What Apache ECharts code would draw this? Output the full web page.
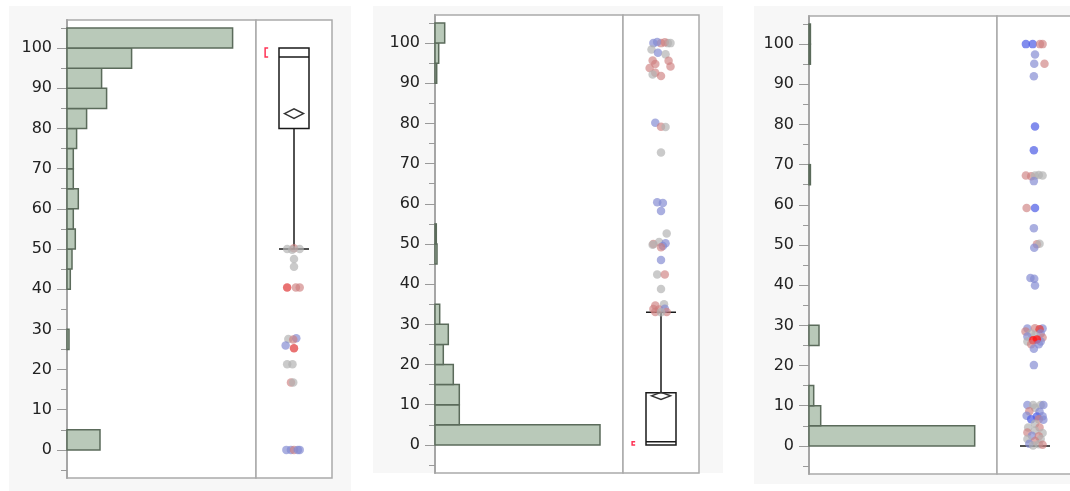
<!DOCTYPE html>
<html><head><meta charset="utf-8">
<script src="https://cdn.jsdelivr.net/npm/echarts@6/dist/echarts.min.js"></script>
<style>html,body{margin:0;padding:0;background:#fff}#c{width:1070px;height:491px}</style>
</head><body><div id="c"></div>
<script>
// ---------- DATA ----------
const binEdges = [0,5,10,15,20,25,30,35,40,45,50,55,60,65,70,75,80,85,90,95,100,105];
const hist1 = [33,0,0,0,0,2,0,0,3.3,5,8.3,6.3,11.3,6.3,6.3,9.6,19.6,39.6,34.6,64.6,165.6];
const hist2 = [165,24.3,24.3,18.3,8.3,13.3,4.7,0,0,2,1.3,0,0,0,0,0,0,0,1.7,3.7,9.7];
const hist3 = [165.7,11.7,4.7,0,0,10,0,0,0,0,0,0,0,1.4,0,0,0,0,0,1.4,1.4];
const histMax = [189, 188, 188];
const majorTicks = [0,10,20,30,40,50,60,70,80,90,100];
const minorTicks = [-5,5,15,25,35,45,55,65,75,85,95,105];
const yRange = [-7, 107];
// [min, Q1, median, Q3, max]
const box1 = [50, 80, 97.8, 100, 100];
const box2 = [0, 0, 0.8, 13, 33];
const box3 = [0, 0, 0, 0, 0];
// [mean, half-height of confidence diamond]
const mean1 = [83.7, 1.2];
const mean2 = [12.2, 0.9];
// shortest half [lo, hi]
const short1 = [97.8, 100];
const short2 = [0, 0.8];
// jittered points [jitter, value, group]
const pts1 = [
 [-0.18,50,'g'],[0.0,50.2,'p'],[0.15,50,'g'],[-0.05,49.8,'g'],
 [0,47.5,'g'],[0,45.6,'g'],
 [-0.18,40.4,'r'],[0.05,40.4,'p'],[0.15,40.4,'p'],
 [-0.15,27.6,'g'],[0.06,27.8,'b'],[-0.02,27.5,'p'],[-0.22,26,'b'],[0.0,25.3,'r'],
 [-0.18,21.3,'g'],[-0.04,21.3,'g'],[-0.08,16.8,'p'],[-0.02,16.8,'g'],
 [-0.2,0,'b'],[-0.08,0,'b'],[0.0,0,'p'],[0.1,0,'b'],[0.15,0,'b']
];
const pts2 = [
 [-0.2,100,'b'],[0,100,'p'],[0.18,100,'g'],[-0.1,100.3,'b'],[0.1,100.2,'p'],[0.25,100,'g'],
 [-0.25,98.4,'g'],[-0.08,97.6,'b'],[0.12,97.2,'g'],
 [-0.22,95.7,'p'],[0.2,95.6,'p'],[-0.15,94.8,'p'],[0.25,94.2,'p'],[-0.3,93.8,'p'],
 [-0.15,92.6,'p'],[-0.22,92.2,'g'],[0.0,91.8,'p'],
 [-0.15,80.2,'b'],[0.0,79.2,'p'],[0.12,79.1,'g'],[0.0,72.8,'g'],
 [-0.1,60.4,'b'],[0.05,60.2,'b'],[0.0,58.2,'b'],[0.15,52.6,'g'],
 [-0.2,50,'p'],[-0.05,50.5,'g'],[0.12,50.2,'b'],[-0.22,49.8,'g'],[0.05,49.5,'b'],[0.0,49.2,'p'],
 [0.0,46,'b'],[-0.1,42.4,'g'],[0.1,42.4,'p'],[0.0,38.8,'g'],
 [-0.15,34.7,'p'],[0.08,35,'g'],[-0.2,33.8,'p'],[-0.05,33.7,'p'],[0.1,33.9,'b'],
 [-0.15,33.1,'p'],[0.15,33.1,'p'],[0,33,'g']
];
const pts3 = [
 [-0.24,100,'B'],[-0.06,100,'B'],[0.13,100,'p'],[0.2,100,'p'],
 [0,97.4,'b'],[-0.02,95.1,'b'],[0.25,95.1,'p'],[-0.03,92,'b'],
 [0,79.5,'B'],[-0.03,73.6,'B'],
 [-0.24,67.3,'p'],[-0.1,67.1,'p'],[0.0,67.3,'g'],[0.1,67.4,'g'],[0.2,67.3,'g'],[-0.03,65.9,'b'],
 [-0.22,59.2,'p'],[0.0,59.2,'B'],[-0.03,54.2,'b'],
 [0.05,50.2,'p'],[0.12,50.3,'g'],[-0.02,49.3,'b'],
 [-0.12,41.8,'b'],[-0.02,41.6,'b'],[0.0,39.9,'b'],
 [-0.2,29.2,'b'],[0,29.3,'p'],[0.2,29.2,'b'],[0.12,29,'r'],[-0.25,28.5,'p'],[-0.1,28,'g'],[0.15,28,'b'],
 [-0.2,27.2,'b'],[0,27.5,'g'],[0.2,27,'p'],[-0.2,26,'g'],[0.15,26,'b'],[-0.05,26.3,'R'],[0.05,26.5,'R'],
 [-0.1,25.3,'p'],[0.1,25.3,'b'],[-0.03,24.2,'b'],[-0.03,20.1,'b'],
 [-0.2,10.2,'b'],[-0.05,10.2,'g'],[0.15,10.2,'g'],[0.22,10.2,'b'],[0,9.5,'g'],[-0.15,8.6,'p'],[0.12,8.5,'b'],
 [-0.22,7.5,'b'],[0.05,7.3,'B'],[0.2,7.4,'b'],[-0.1,6.6,'B'],[0.1,6.6,'p'],[0.22,6.5,'b'],[0,5.5,'g'],
 [-0.18,4.6,'g'],[0.12,4.6,'p'],[0,3.8,'g'],[-0.2,3.3,'p'],[0.2,3.2,'g'],[-0.08,2.5,'b'],[0.1,2.4,'p'],
 [-0.2,1.7,'g'],[0.15,1.7,'g'],[0,1.2,'p'],[-0.15,0.5,'b'],[0.1,0.4,'g'],[0.2,0.3,'p'],[-0.05,0.1,'g']
];

// ---------- STYLE / LAYOUT ----------
const groupColor = {
  g:'rgba(178,178,178,0.85)', p:'rgba(205,125,125,0.8)', b:'rgba(130,138,210,0.85)',
  r:'rgba(225,60,60,0.9)', B:'rgba(80,95,230,0.9)', R:'rgba(255,20,20,0.95)'
};
const panels = [
  {hist:hist1, box:box1, mean:mean1, short:short1, pts:pts1, hx:67, top:20, hw:189, bw:76, h:458, bg:[9,6,342,485]},
  {hist:hist2, box:box2, mean:mean2, short:short2, pts:pts2, hx:435, top:15, hw:188, bw:76, h:458, bg:[373,6,350,467]},
  {hist:hist3, box:box3, mean:null, short:null, pts:pts3, hx:809, top:16, hw:188, bw:76, h:458, bg:[754,6,316,478]}
];
const font = 'DejaVu Sans';
const grids = [], xAxes = [], yAxes = [], series = [], graphics = [];

panels.forEach((P, i) => {
  graphics.push({type:'rect', z:-10, shape:{x:P.bg[0], y:P.bg[1], width:P.bg[2], height:P.bg[3]}, style:{fill:'#f7f7f7'}});
  const ga = grids.length;
  grids.push({left:P.hx, top:P.top, width:P.hw, height:P.h, outerBoundsMode:'none', show:true, backgroundColor:'#fff', borderColor:'#aaaaaa', borderWidth:1.5});
  grids.push({left:P.hx+P.hw, top:P.top, width:P.bw, height:P.h, outerBoundsMode:'none', show:true, backgroundColor:'#fff', borderColor:'#aaaaaa', borderWidth:1.5});
  const xb = xAxes.length;
  xAxes.push({type:'value', gridIndex:ga, min:0, max:histMax[i], show:false});
  xAxes.push({type:'category', gridIndex:ga+1, data:['v'], show:false});
  xAxes.push({type:'value', gridIndex:ga+1, min:-1, max:1, show:false});
  const yb = yAxes.length;
  yAxes.push({type:'value', gridIndex:ga, position:'left', min:yRange[0], max:yRange[1],
    axisLine:{show:true, lineStyle:{color:'#a6a6a6', width:2}},
    axisTick:{show:true, customValues:majorTicks, length:10, lineStyle:{color:'#9a9a9a', width:1}},
    axisLabel:{customValues:majorTicks, margin:15, color:'#222', fontFamily:font, fontSize:16},
    splitLine:{show:false}});
  yAxes.push({type:'value', gridIndex:ga, position:'left', min:yRange[0], max:yRange[1],
    axisLine:{show:false},
    axisTick:{show:true, customValues:minorTicks, length:6, lineStyle:{color:'#9a9a9a', width:1}},
    axisLabel:{show:false}, splitLine:{show:false}});
  yAxes.push({type:'value', gridIndex:ga+1, min:yRange[0], max:yRange[1], show:false, splitLine:{show:false}});

  // histogram
  const hdata = [];
  P.hist.forEach((c, k) => { if (c > 0) hdata.push([binEdges[k], binEdges[k+1], c]); });
  series.push({type:'custom', xAxisIndex:xb, yAxisIndex:yb, data:hdata,
    encode:{x:2, y:[0,1]},
    renderItem:(params, api) => {
      const p0 = api.coord([0, api.value(1)]);
      const p1 = api.coord([api.value(2), api.value(0)]);
      return {type:'rect', shape:{x:p0[0], y:p0[1], width:p1[0]-p0[0], height:p1[1]-p0[1]},
        style:{fill:'#b9c9b9', stroke:'#5b6b5b', lineWidth:1.5}};
    }});
  // box plot
  series.push({type:'boxplot', xAxisIndex:xb+1, yAxisIndex:yb+2, data:[P.box], boxWidth:[30,30],
    itemStyle:{color:'rgba(255,255,255,0)', borderColor:'#1a1a1a', borderWidth:1.5}, z:2});
  // mean diamond
  if (P.mean) {
    series.push({type:'custom', xAxisIndex:xb+2, yAxisIndex:yb+2, data:[P.mean], z:3,
      renderItem:(params, api) => {
        const m = api.value(0), c = api.value(1), w = 0.25;
        return {type:'polygon', shape:{points:[api.coord([-w,m]), api.coord([0,m+c]), api.coord([w,m]), api.coord([0,m-c])]},
          style:{fill:'rgba(255,255,255,0)', stroke:'#333', lineWidth:1.5}};
      }});
  }
  // shortest half bracket
  if (P.short) {
    series.push({type:'custom', xAxisIndex:xb+2, yAxisIndex:yb+2, data:[P.short], z:3,
      renderItem:(params, api) => {
        const lo = api.value(0), hi = api.value(1), a = -0.76, b = -0.68;
        return {type:'polyline', shape:{points:[api.coord([b,hi]), api.coord([a,hi]), api.coord([a,lo]), api.coord([b,lo])]},
          style:{fill:null, stroke:'#ff3355', lineWidth:1.5}};
      }});
  }
  // jittered points
  series.push({type:'scatter', xAxisIndex:xb+2, yAxisIndex:yb+2, data:P.pts, symbolSize:8.5, z:4,
    itemStyle:{color:(p) => groupColor[p.data[2]]}, silent:true});
});

const chart = echarts.init(document.getElementById('c'), null, {renderer:'canvas'});
chart.setOption({animation:false, backgroundColor:'#fff', graphic:graphics, grid:grids, xAxis:xAxes, yAxis:yAxes, series:series});
</script></body></html>
